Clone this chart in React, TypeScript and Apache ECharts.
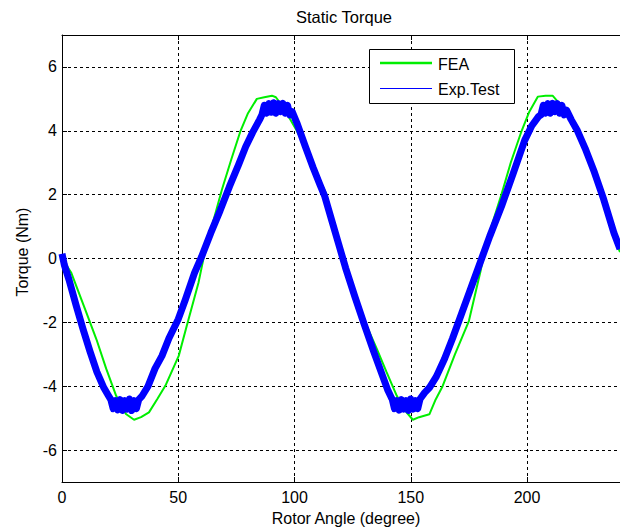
import React, { useEffect, useRef } from "react";
import * as echarts from "echarts";

const feaAngle = [0, 4, 10, 14.8, 19, 23.3, 27.5, 31, 34, 37.4, 41, 44.5, 50.2, 53.7, 58.7, 61, 65, 68.8, 72.8, 76.8, 80, 83.8, 87, 90.3, 92, 94, 97, 101, 105, 109, 113.8, 117.5, 121.5, 124, 131, 135.5, 139.6, 144, 148, 150.9, 153.6, 158, 160.5, 163.7, 169, 175, 180, 182.5, 189, 193, 197.7, 201, 204.7, 208, 211, 214, 217.5, 223, 227, 231.8, 237.4, 240];
const feaTorque = [0, -0.45, -1.6, -2.53, -3.45, -4.3, -4.87, -5.05, -4.97, -4.82, -4.4, -3.98, -3.05, -2.1, -0.76, 0.05, 1.15, 2.16, 3.1, 4.0, 4.55, 5.0, 5.05, 5.1, 5.05, 4.85, 4.5, 4.0, 3.4, 2.75, 2.0, 0.8, 0, -0.66, -2.1, -2.85, -3.56, -4.3, -4.8, -5.05, -4.97, -4.88, -4.45, -4.0, -3.0, -1.96, -0.4, 0.5, 2.0, 3.0, 4.0, 4.6, 5.07, 5.1, 5.1, 4.85, 4.55, 3.8, 3.0, 2.0, 0.7, 0.2];

const expAngle = [0, 1, 3, 6, 9, 12, 15, 18, 20, 21, 22, 23, 24, 25, 26, 27, 28, 29, 30, 31, 32, 33, 34.5, 37, 40, 43, 46, 50, 53, 57, 60, 64, 68, 72, 76, 79, 82, 85, 86, 87, 88, 89, 90, 91, 92, 93, 94, 95, 96, 97, 98, 99, 101, 104.7, 108, 111, 113, 116, 119, 122, 126, 129.7, 134, 138, 140, 141.6, 142, 143, 144, 145, 146, 147, 148, 149, 150, 151, 152, 153, 154, 156, 158, 161, 164.5, 168, 172, 176, 180, 184, 189, 194, 199, 202, 205, 206, 207, 208, 209, 210, 211, 212, 213, 214, 215, 216, 217, 219, 221.7, 225, 229, 233, 237.4, 240];
const expTorque = [0.15, -0.2, -0.66, -1.45, -2.2, -2.9, -3.55, -4.05, -4.3, -4.42, -4.7, -4.45, -4.74, -4.42, -4.76, -4.45, -4.72, -4.4, -4.76, -4.45, -4.7, -4.42, -4.3, -4.0, -3.45, -3.05, -2.5, -1.9, -1.3, -0.45, 0.05, 0.8, 1.5, 2.25, 2.95, 3.5, 3.95, 4.35, 4.5, 4.8, 4.55, 4.85, 4.58, 4.88, 4.55, 4.85, 4.6, 4.86, 4.55, 4.8, 4.5, 4.6, 4.25, 3.5, 2.85, 2.3, 1.95, 1.2, 0.45, -0.3, -1.2, -2.0, -2.9, -3.7, -4.1, -4.35, -4.4, -4.7, -4.45, -4.75, -4.42, -4.72, -4.45, -4.76, -4.4, -4.72, -4.45, -4.7, -4.4, -4.2, -4.05, -3.7, -3.15, -2.5, -1.7, -0.9, -0.1, 0.7, 1.63, 2.65, 3.7, 4.15, 4.45, 4.5, 4.8, 4.55, 4.85, 4.55, 4.86, 4.6, 4.85, 4.55, 4.8, 4.5, 4.65, 4.35, 4.0, 3.45, 2.7, 1.85, 0.8, 0.3];

const seriesNames = ["FEA", "Exp.Test"];
const titleText = "Static Torque";
const xName = "Rotor Angle (degree)";
const yName = "Torque (Nm)";

const FONT = "'Liberation Sans', Arial, sans-serif";

export default function App() {
  const ref = useRef<HTMLDivElement>(null);
  useEffect(() => {
    if (!ref.current) return;
    const chart = echarts.init(ref.current, null, { renderer: "svg" });
    const axisCommon = {
      axisLine: { onZero: false, lineStyle: { color: "#000", width: 1 } },
      axisTick: { inside: true, length: 5, lineStyle: { color: "#000", width: 1 } },
    };
    chart.setOption({
      animation: false,
      backgroundColor: "#fff",
      grid: { left: 62, top: 35, width: 568, height: 447 },
      xAxis: [
        {
          type: "value",
          min: 0,
          max: 240,
          interval: 50,
          position: "bottom",
          ...axisCommon,
          axisLabel: { color: "#000", fontSize: 16, fontFamily: FONT, margin: 7, showMaxLabel: false },
          splitLine: { show: true, lineStyle: { color: "#000", width: 1, type: [3, 3] } },
        },
        {
          type: "value",
          min: 0,
          max: 240,
          interval: 50,
          position: "top",
          ...axisCommon,
          axisLabel: { show: false },
          splitLine: { show: false },
        },
      ],
      yAxis: {
        type: "value",
        min: -7,
        max: 7,
        splitNumber: 7,
        ...axisCommon,
        axisLabel: { color: "#000", fontSize: 16, fontFamily: FONT, margin: 5, showMinLabel: false, showMaxLabel: false },
        splitLine: { show: true, lineStyle: { color: "#000", width: 1, type: [3, 3] } },
      },
      series: [
        {
          name: seriesNames[0],
          type: "line",
          data: feaAngle.map((a, i) => [a, feaTorque[i]]),
          showSymbol: false,
          symbol: "none",
          lineStyle: { color: "#00ee00", width: 2 },
          z: 2,
        },
        {
          name: seriesNames[1],
          type: "line",
          data: expAngle.map((a, i) => [a, expTorque[i]]),
          showSymbol: false,
          symbol: "none",
          lineStyle: { color: "#0000ff", width: 7, join: "round", cap: "butt" },
          z: 3,
        },
      ],
      graphic: [
        {
          type: "text",
          x: 344,
          y: 17,
          style: { text: titleText, fill: "#000", font: `16.5px ${FONT}`, textAlign: "center", textVerticalAlign: "middle" },
        },
        {
          type: "text",
          x: 346,
          y: 518,
          style: { text: xName, fill: "#000", font: `16px ${FONT}`, textAlign: "center", textVerticalAlign: "middle" },
        },
        {
          type: "text",
          x: 22,
          y: 252,
          rotation: Math.PI / 2,
          style: { text: yName, fill: "#000", font: `16px ${FONT}`, textAlign: "center", textVerticalAlign: "middle" },
        },
        { type: "rect", z: 100, shape: { x: 369.5, y: 49.5, width: 145, height: 54 }, style: { fill: "#fff", stroke: "#000", lineWidth: 1 } },
        { type: "line", z: 101, shape: { x1: 380, y1: 63, x2: 432, y2: 63 }, style: { stroke: "#00ee00", lineWidth: 2.5 } },
        { type: "text", z: 101, x: 438, y: 64, style: { text: seriesNames[0], fill: "#000", font: `16px ${FONT}`, textAlign: "left", textVerticalAlign: "middle" } },
        { type: "line", z: 101, shape: { x1: 380, y1: 88.5, x2: 432, y2: 88.5 }, style: { stroke: "#0000ff", lineWidth: 1 } },
        { type: "text", z: 101, x: 438, y: 89.5, style: { text: seriesNames[1], fill: "#000", font: `16px ${FONT}`, textAlign: "left", textVerticalAlign: "middle" } },
      ],
    });
    return () => chart.dispose();
  }, []);
  return (
    <div style={{ position: "absolute", left: 0, top: 0, width: 620, height: 530, overflow: "hidden", background: "#fff" }}>
      <div ref={ref} style={{ width: 620, height: 530 }} />
    </div>
  );
}
